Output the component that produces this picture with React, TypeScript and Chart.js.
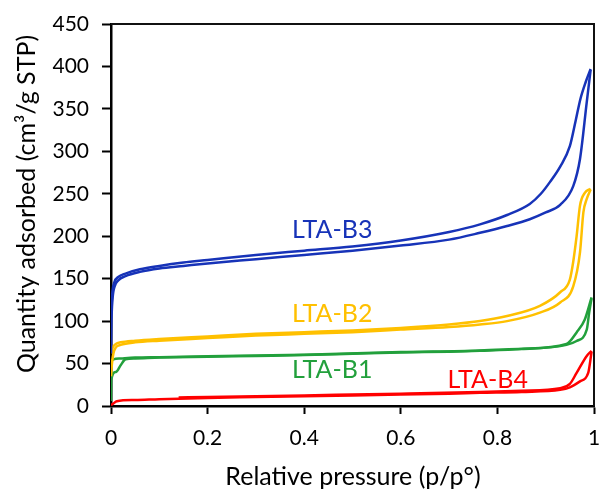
import React, { useEffect, useRef } from "react";
import { Chart, registerables } from "chart.js";

Chart.register(...registerables);

// Relative pressure (p/p°), quantity adsorbed (cm³/g STP)
const b3Adsorption: [number, number][] = [
  [0, 62], [0.001, 100], [0.003, 125], [0.007, 140], [0.015, 148], [0.03, 153], [0.06, 158],
  [0.1, 162], [0.15, 165], [0.2, 168], [0.3, 173], [0.4, 178], [0.5, 183], [0.6, 189],
  [0.7, 196], [0.764, 204], [0.82, 212], [0.867, 220], [0.9, 228], [0.93, 237], [0.957, 259],
  [0.971, 291], [0.985, 358], [0.993, 396],
];
const b3Desorption: [number, number][] = [
  [0.001, 118], [0.003, 135], [0.007, 146], [0.015, 152], [0.03, 156], [0.06, 161], [0.1, 165],
  [0.15, 169], [0.2, 172], [0.3, 178], [0.4, 183], [0.5, 188], [0.6, 195], [0.7, 205],
  [0.764, 214], [0.82, 225], [0.867, 238], [0.89, 250], [0.909, 264], [0.93, 282], [0.95, 306],
  [0.962, 336], [0.972, 362], [0.983, 382], [0.993, 397],
];
const b2Adsorption: [number, number][] = [
  [0, 35], [0.002, 50], [0.005, 62], [0.01, 69], [0.02, 72], [0.05, 75], [0.1, 77], [0.2, 80],
  [0.3, 83], [0.4, 85], [0.5, 87], [0.6, 90], [0.7, 93], [0.764, 96], [0.82, 100], [0.888, 110],
  [0.93, 122], [0.957, 141], [0.971, 181], [0.978, 228], [0.985, 244], [0.993, 255],
];
const b2Desorption: [number, number][] = [
  [0.001, 62], [0.003, 68], [0.01, 73], [0.02, 75], [0.05, 77], [0.1, 79], [0.2, 82], [0.3, 85],
  [0.4, 87], [0.5, 89], [0.6, 92], [0.7, 96], [0.764, 100], [0.82, 106], [0.888, 118],
  [0.93, 134], [0.95, 149], [0.957, 170], [0.964, 200], [0.971, 236], [0.981, 251], [0.993, 256],
];
const b1Adsorption: [number, number][] = [
  [0, 6], [0.0005, 31], [0.01, 40], [0.02, 48], [0.03, 55], [0.05, 56], [0.1, 57], [0.2, 58],
  [0.3, 59], [0.4, 60], [0.5, 61.5], [0.6, 63], [0.7, 64], [0.764, 65], [0.85, 67],
  [0.943, 72], [0.964, 76.5], [0.985, 90], [0.99, 110], [0.995, 127],
];
const b1Desorption: [number, number][] = [
  [0.001, 53], [0.005, 55], [0.02, 56], [0.05, 57], [0.1, 57.5], [0.2, 58.5], [0.4, 60.5],
  [0.6, 63.5], [0.764, 65.5], [0.85, 67.5], [0.943, 73], [0.964, 86.7], [0.981, 102], [0.995, 128],
];
const b4Adsorption: [number, number][] = [
  [0, 1], [0.005, 3], [0.012, 5.7], [0.05, 7], [0.1, 8], [0.2, 9.5], [0.3, 10.5], [0.4, 11.5],
  [0.5, 12.5], [0.6, 13.5], [0.7, 14.5], [0.764, 15.5], [0.85, 16.5], [0.93, 19], [0.95, 22],
  [0.971, 29], [0.988, 39], [0.995, 64],
];
const b4Desorption: [number, number][] = [
  [0.14, 10], [0.2, 10.5], [0.4, 12.5], [0.6, 14.5], [0.764, 16.5], [0.85, 18], [0.93, 21],
  [0.95, 26], [0.964, 39], [0.985, 59], [0.995, 65],
];

const sampleNames = ["LTA-B3", "LTA-B2", "LTA-B1", "LTA-B4"];
const sampleColors = ["#1733b8", "#ffc000", "#22a03c", "#ff0000"];
// label anchor points in data coordinates
const labelX = [0.458, 0.458, 0.458, 0.78];
const labelY = [207, 108, 42, 31];

const xTicks = [0, 0.2, 0.4, 0.6, 0.8, 1];
const yMax = 450;
const yStep = 50;
const xTitle = "Relative pressure (p/p°)";
const yTitle = "Quantity adsorbed (cm³/g STP)";

const FONT = "Lato, 'Open Sans', sans-serif";

export default function App() {
  const ref = useRef<HTMLCanvasElement | null>(null);
  useEffect(() => {
    if (!ref.current) return;
    const branches = [
      [b3Adsorption, b3Desorption],
      [b2Adsorption, b2Desorption],
      [b1Adsorption, b1Desorption],
      [b4Adsorption, b4Desorption],
    ];
    const datasets: any[] = [];
    branches.forEach((pair, i) => {
      pair.forEach((arr, j) => {
        datasets.push({
          label: sampleNames[i] + (j === 0 ? " ads" : " des"),
          data: arr.map(([x, y]) => ({ x, y })),
          showLine: true,
          borderColor: sampleColors[i],
          backgroundColor: sampleColors[i],
          borderWidth: 2.5,
          pointRadius: 0,
          cubicInterpolationMode: "monotone",
          fill: false,
        });
      });
    });

    const overlay = {
      id: "overlay",
      afterDraw(chart: any) {
        const { ctx, chartArea, scales } = chart;
        ctx.save();
        ctx.strokeStyle = "#111";
        ctx.lineWidth = 2;
        ctx.beginPath();
        ctx.moveTo(chartArea.left, chartArea.top);
        ctx.lineTo(chartArea.right, chartArea.top);
        ctx.lineTo(chartArea.right, chartArea.bottom);
        ctx.stroke();
        ctx.font = `25px ${FONT}`;
        ctx.textAlign = "center";
        ctx.textBaseline = "middle";
        sampleNames.forEach((n, i) => {
          ctx.fillStyle = sampleColors[i];
          ctx.fillText(n, scales.x.getPixelForValue(labelX[i]), scales.y.getPixelForValue(labelY[i]));
        });
        ctx.fillStyle = "#000";
        ctx.font = `25px ${FONT}`;
        ctx.fillText(xTitle, 353, 477);
        ctx.translate(27, 204);
        ctx.rotate(-Math.PI / 2);
        ctx.fillText(yTitle, 0, 0);
        ctx.restore();
      },
    };

    const chart = new Chart(ref.current, {
      type: "scatter",
      data: { datasets },
      options: {
        animation: false,
        responsive: false,
        layout: { padding: { top: 24, right: 6, left: 0, bottom: 0 } },
        plugins: { legend: { display: false }, tooltip: { enabled: false } },
        scales: {
          x: {
            type: "linear",
            min: 0,
            max: 1,
            afterBuildTicks(scale: any) {
              scale.ticks = xTicks.map((v) => ({ value: v }));
            },
            afterFit(scale: any) {
              scale.height = 85;
              scale.paddingRight = 0;
              scale.paddingLeft = 0;
            },
            ticks: {
              color: "#000",
              font: { family: FONT, size: 21 },
              padding: 12,
              maxRotation: 0,
              callback: (v: any) => String(v),
            },
            grid: { drawOnChartArea: false, tickLength: 8, tickColor: "#000", tickWidth: 2 },
            border: { color: "#000", width: 2.5 },
          },
          y: {
            type: "linear",
            min: 0,
            max: yMax,
            ticks: {
              stepSize: yStep,
              color: "#000",
              font: { family: FONT, size: 21 },
              padding: 13,
            },
            afterFit(scale: any) {
              scale.width = 111;
              scale.paddingTop = 0;
              scale.paddingBottom = 0;
            },
            grid: { drawOnChartArea: false, tickLength: 9, tickColor: "#000", tickWidth: 2 },
            border: { color: "#000", width: 2.5 },
          },
        },
      },
      plugins: [overlay],
    });
    return () => chart.destroy();
  }, []);
  return (
    <canvas
      ref={ref}
      width={600}
      height={491}
      style={{ position: "absolute", left: 0, top: 0, width: 600, height: 491, background: "#fff" }}
    />
  );
}
